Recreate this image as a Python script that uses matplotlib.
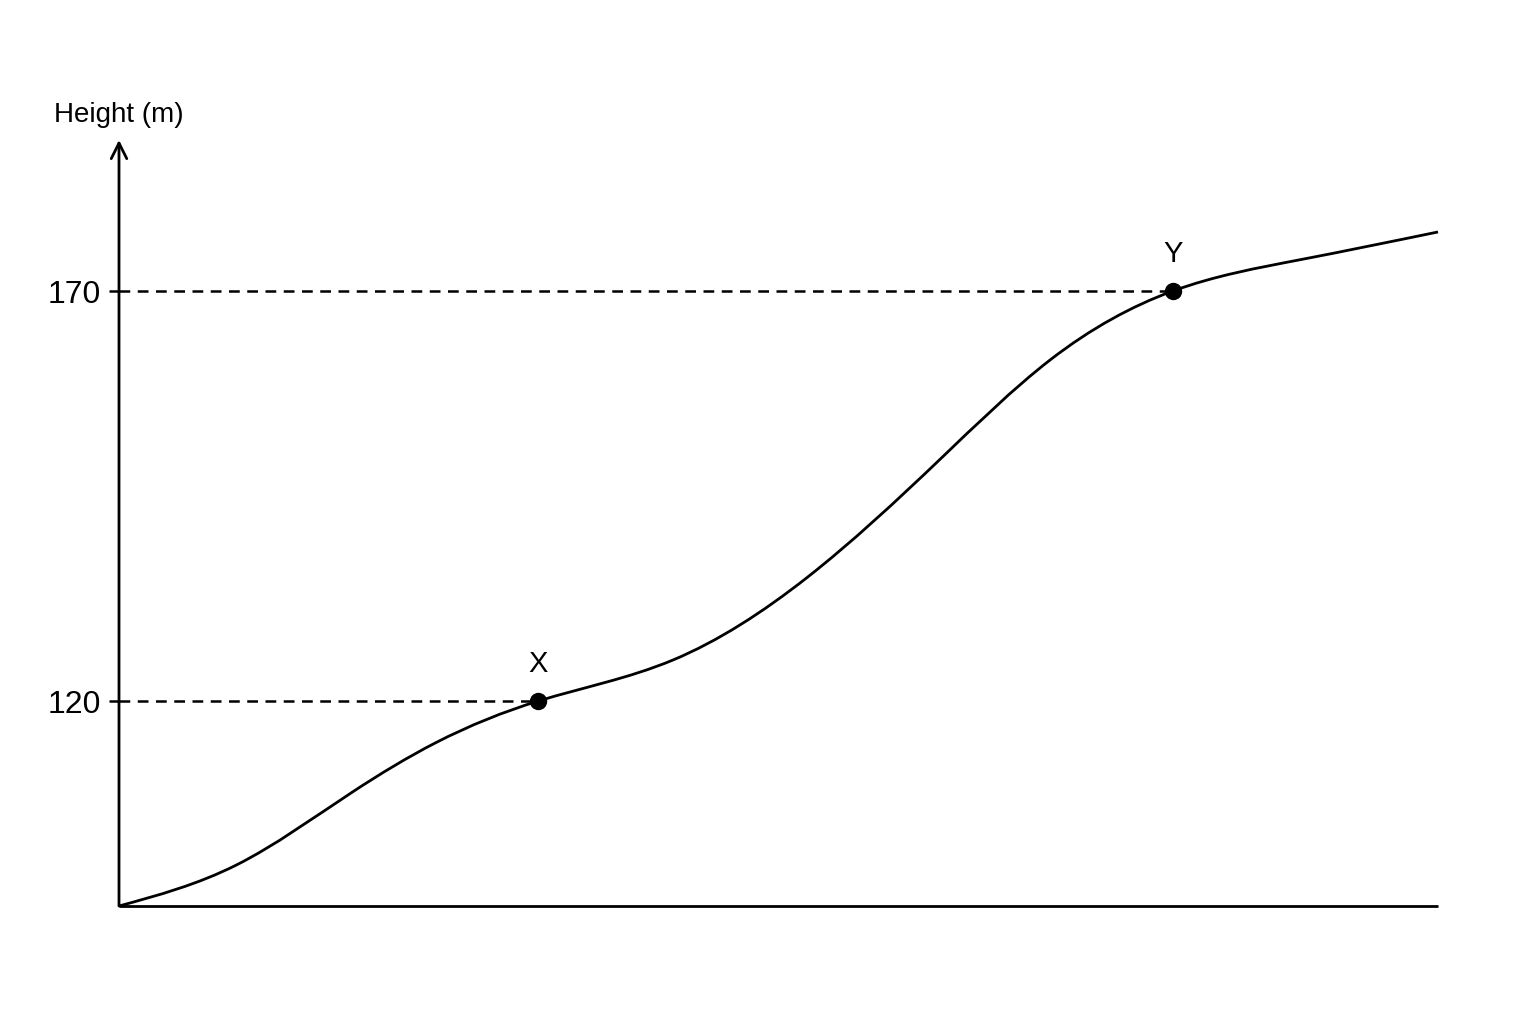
import matplotlib
matplotlib.use("Agg")
import matplotlib.pyplot as plt
import numpy as np
from matplotlib.path import Path
from matplotlib.patches import PathPatch

# Data (x in arbitrary distance units 0-100, height in m)
curve_x = [0, 8.9, 17.7, 24.0, 31.8, 42.0, 52.2, 62.2, 70.6, 79.9, 89.5, 100]
curve_y = [95, 100.0, 108.9, 114.9, 120, 125.0, 135.1, 149.4, 161.6, 170, 173.8, 177.2]
point_names = ["X", "Y"]
point_x = [31.8, 79.9]
point_y = [120, 170]
ytick_vals = [120, 170]
ytick_labels = ["120", "170"]
y_label = "Height (m)"

plt.rcParams['font.family'] = ['Liberation Sans', 'DejaVu Sans']

fig = plt.figure(figsize=(15.36, 10.24), dpi=100)
ax = fig.add_axes([119/1536, 1-906/1024, (1438-119)/1536, (906-140)/1024])
ymin, ymax = 95, 95 + (906-140)/8.2
ax.set_xlim(0, 100)
ax.set_ylim(ymin, ymax)
for s in ax.spines.values():
    s.set_visible(False)
ax.set_xticks([])
ax.set_yticks(ytick_vals)
ax.set_yticklabels(ytick_labels, fontsize=23)
ax.tick_params(axis='y', length=7, width=1.8, pad=6, color='black')

# x axis
ax.plot([0, 100], [ymin, ymin], color='black', lw=2.0, solid_capstyle='butt', clip_on=False)
# y axis with arrow
ax.annotate("", xy=(0, ymax), xytext=(0, ymin),
            arrowprops=dict(arrowstyle='->', lw=2.0, color='black',
                            mutation_scale=28, shrinkA=0, shrinkB=0),
            annotation_clip=False)
ax.text(0, ymax + 3.0, y_label, fontsize=20, ha='center', va='center')

# dashed guides
for px, py in zip(point_x, point_y):
    ax.plot([0, px], [py, py], color='black', lw=1.8, linestyle=(0, (4.3, 3.0)))

# smooth curve through the data points: natural cubic spline drawn as Bezier segments
xs = np.asarray(curve_x, float)
ys = np.asarray(curve_y, float)
n = len(xs)
h = np.diff(xs)
A = np.zeros((n, n))
b = np.zeros(n)
A[0, 0], A[0, 1] = 2, 1
b[0] = 3 * (ys[1] - ys[0]) / h[0]
A[-1, -2], A[-1, -1] = 1, 2
b[-1] = 3 * (ys[-1] - ys[-2]) / h[-1]
for i in range(1, n - 1):
    A[i, i - 1] = 1 / h[i - 1]
    A[i, i] = 2 * (1 / h[i - 1] + 1 / h[i])
    A[i, i + 1] = 1 / h[i]
    b[i] = 3 * ((ys[i] - ys[i - 1]) / h[i - 1] ** 2 + (ys[i + 1] - ys[i]) / h[i] ** 2)
m = np.linalg.solve(A, b)
verts = [(xs[0], ys[0])]
codes = [Path.MOVETO]
for i in range(n - 1):
    verts += [(xs[i] + h[i] / 3, ys[i] + m[i] * h[i] / 3),
              (xs[i + 1] - h[i] / 3, ys[i + 1] - m[i + 1] * h[i] / 3),
              (xs[i + 1], ys[i + 1])]
    codes += [Path.CURVE4] * 3
ax.add_patch(PathPatch(Path(verts, codes), facecolor='none', edgecolor='black',
                       lw=2.0, joinstyle='round', clip_on=False))

# points
ax.plot(point_x, point_y, 'o', color='black', markersize=11.5, zorder=5)
for name, px, py in zip(point_names, point_x, point_y):
    ax.annotate(name, xy=(px, py), xytext=(0, 27), textcoords='offset points',
                ha='center', va='center', fontsize=21)

fig.savefig("out.png", dpi=100, facecolor='white')
